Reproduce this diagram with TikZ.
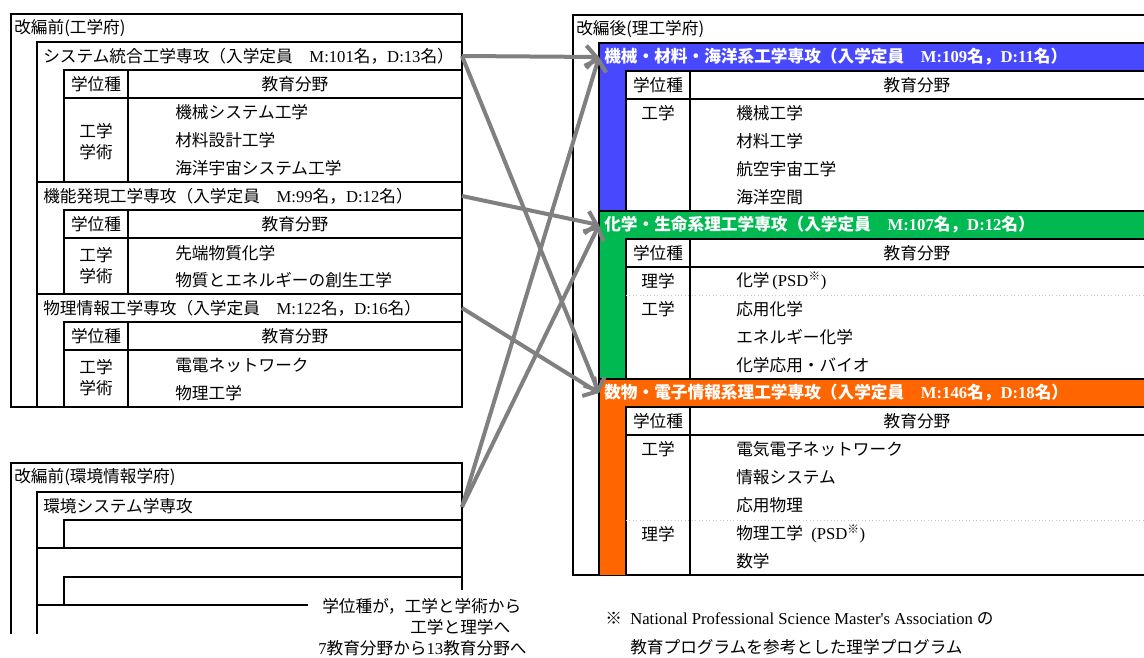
\documentclass[tikz,border=0pt]{standalone}
\usepackage{fontspec}
\setmainfont{Noto Sans CJK JP}
\newfontfamily\tm{Liberation Serif}
\usetikzlibrary{arrows.meta}
\definecolor{cblue}{RGB}{72,72,255}
\definecolor{cgreen}{RGB}{0,185,80}
\definecolor{corange}{RGB}{255,102,0}
\definecolor{agray}{RGB}{128,128,128}
\definecolor{dgray}{RGB}{200,200,200}
\begin{document}
\begin{tikzpicture}[x=0.75pt,y=-0.75pt,
  bx/.style={line width=1.5pt, line join=miter},
  t/.style={anchor=west, inner sep=0pt},
  c/.style={inner sep=0pt},
  hd/.style={anchor=west, inner sep=0pt, text=white, font=\fontsize{12.5}{15}\selectfont\bfseries},
  arr/.style={draw=agray, line width=3pt, -{Straight Barb[length=7.5pt,width=17pt]}},
  dotl/.style={draw=dgray, line width=0.6pt, dotted},
  every node/.append style={font=\fontsize{12.5}{15.75}\selectfont}]
\useasboundingbox (0,0) rectangle (1144,657);
\clip (0,0) rectangle (1144,657);
\fill[white] (0,0) rectangle (1144,657);

% ---------- left box 1 ----------
\draw[bx] (11,14) rectangle (462,407);
\draw[bx] (37,407) -- (37,42) -- (462,42);
\draw[bx] (64,70) rectangle (462,182);
\draw[bx] (64,98) -- (462,98) (128,70) -- (128,182);
\draw[bx] (37,182) -- (462,182);
\draw[bx] (64,210) rectangle (462,294);
\draw[bx] (64,238) -- (462,238) (128,210) -- (128,294);
\draw[bx] (37,294) -- (462,294);
\draw[bx] (64,322) rectangle (462,407);
\draw[bx] (64,350) -- (462,350) (128,322) -- (128,407);

\node[t] (L1title) at (14,28) {改編前(工学府)};
\node[t] (L1s1) at (43,56) {システム統合工学専攻（入学定員\quad{\tm M:101}名，{\tm D:13}名）};
\node[c] (L1s1a) at (96,84) {学位種};
\node[c] (L1s1b) at (295,84) {教育分野};
\node[c, align=center] (L1s1c) at (96,142) {工学\\学術};
\node[t] (L1s1d) at (175,112) {機械システム工学};
\node[t] (L1s1e) at (175,140) {材料設計工学};
\node[t] (L1s1f) at (175,168) {海洋宇宙システム工学};

\node[t] (L1s2) at (43,196) {機能発現工学専攻（入学定員\quad{\tm M:99}名，{\tm D:12}名）};
\node[c] (L1s2a) at (96,224) {学位種};
\node[c] (L1s2b) at (295,224) {教育分野};
\node[c, align=center] (L1s2c) at (96,266) {工学\\学術};
\node[t] (L1s2d) at (175,253) {先端物質化学};
\node[t] (L1s2e) at (175,280) {物質とエネルギーの創生工学};

\node[t] (L1s3) at (43,308) {物理情報工学専攻（入学定員\quad{\tm M:122}名，{\tm D:16}名）};
\node[c] (L1s3a) at (96,336) {学位種};
\node[c] (L1s3b) at (295,336) {教育分野};
\node[c, align=center] (L1s3c) at (96,378) {工学\\学術};
\node[t] (L1s3d) at (175,365) {電電ネットワーク};
\node[t] (L1s3e) at (175,393) {物理工学};

% ---------- left box 2 ----------
\draw[bx] (11,634) -- (11,463) -- (462,463) -- (462,590);
\draw[bx] (37,634) -- (37,492) -- (462,492);
\draw[bx] (462,520) -- (64,520) -- (64,548);
\draw[bx] (37,548) -- (462,548);
\draw[bx] (462,577) -- (64,577) -- (64,605);
\draw[bx] (37,605) -- (308,605);
\node[t] (L2title) at (14,477) {改編前(環境情報学府)};
\node[t] (L2s1) at (43,506) {環境システム学専攻};
\node[t] (n1) at (322,606) {学位種が，工学と学術から};
\node[t] (n2) at (410,627) {工学と理学へ};
\node[t] (n3) at (318,648) {{\tm 7}教育分野から{\tm 13}教育分野へ};

% ---------- right box ----------
\draw[bx] (573,15) rectangle (1160,575);
\fill[cblue] (599,43) rectangle (1160,211);
\fill[cgreen] (599,211) rectangle (1160,379);
\fill[corange] (599,379) rectangle (1160,575);
\draw[bx, fill=white] (626,71) rectangle (1160,211);
\draw[bx] (626,99) -- (1160,99) (690,71) -- (690,211);
\draw[bx, fill=white] (626,239) rectangle (1160,379);
\draw[bx] (626,267) -- (1160,267) (690,239) -- (690,379);
\draw[bx, fill=white] (626,407) rectangle (1160,575);
\draw[bx] (626,435) -- (1160,435) (690,407) -- (690,575);
\draw[bx] (599,575) -- (599,43) -- (1160,43);
\draw[bx] (599,211) -- (1160,211);
\draw[bx] (599,379) -- (1160,379);
\draw[dotl] (626,295) -- (1160,295);
\draw[dotl] (626,520) -- (1160,520);

\node[t] (Rtitle) at (576,29) {改編後(理工学府)};
\node[hd] (Rb) at (604,57) {機械・材料・海洋系工学専攻（入学定員\quad{\tm M:109}名，{\tm D:11}名）};
\node[c] (Rba) at (658,85) {学位種};
\node[c] (Rbb) at (917,85) {教育分野};
\node[c] (Rbc) at (658,113) {工学};
\node[t] (Rbd) at (736,113) {機械工学};
\node[t] (Rbe) at (736,141) {材料工学};
\node[t] (Rbf) at (736,169) {航空宇宙工学};
\node[t] (Rbg) at (736,197) {海洋空間};

\node[hd] (Rg) at (604,225) {化学・生命系理工学専攻（入学定員\quad{\tm M:107}名，{\tm D:12}名）};
\node[c] (Rga) at (658,253) {学位種};
\node[c] (Rgb) at (917,253) {教育分野};
\node[c] (Rgc) at (658,281) {理学};
\node[c] (Rgd) at (658,309) {工学};
\node[t] (Rge) at (736,281) {化学\,{\tm (PSD}\textsuperscript{※}{\tm )}};
\node[t] (Rgf) at (736,309) {応用化学};
\node[t] (Rgg) at (736,337) {エネルギー化学};
\node[t] (Rgh) at (736,365) {化学応用・バイオ};

\node[hd] (Ro) at (604,393) {数物・電子情報系理工学専攻（入学定員\quad{\tm M:146}名，{\tm D:18}名）};
\node[c] (Roa) at (658,421) {学位種};
\node[c] (Rob) at (917,421) {教育分野};
\node[c] (Roc) at (658,449) {工学};
\node[c] (Rod) at (658,534) {理学};
\node[t] (Roe) at (736,449) {電気電子ネットワーク};
\node[t] (Rof) at (736,477) {情報システム};
\node[t] (Rog) at (736,505) {応用物理};
\node[t] (Roh) at (736,534) {物理工学\enspace{\tm (PSD}\textsuperscript{※}{\tm )}};
\node[t] (Roi) at (736,561) {数学};

\node[t] (fn1) at (605,619) {※\enspace{\tm National Professional Science Master's Association} の};
\node[t] (fn2) at (630,647) {教育プログラムを参考とした理学プログラム};

% ---------- arrows ----------
\coordinate (a1) at (462,56);
\coordinate (a2) at (462,196);
\coordinate (a3) at (462,308);
\coordinate (a4) at (462,507);
\coordinate (bB) at (599,57);
\coordinate (bG) at (599,225);
\coordinate (bO) at (599,393);
\draw[arr] (a1) -- (bB);
\draw[arr] (a1) -- (bO);
\draw[arr] (a2) -- (bG);
\draw[arr] (a3) -- (bO);
\draw[arr] (a4) -- (bB);
\draw[arr] (a4) -- (bG);
\end{tikzpicture}
\end{document}
